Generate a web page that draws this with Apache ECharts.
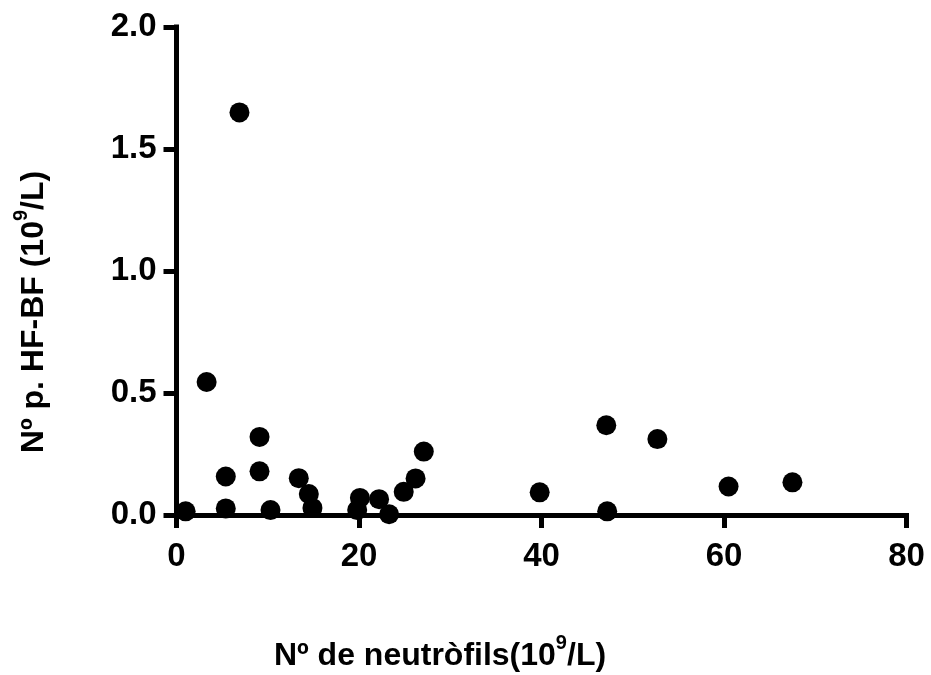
<!DOCTYPE html>
<html>
<head>
<meta charset="utf-8">
<script src="https://cdn.jsdelivr.net/npm/echarts@6/dist/echarts.min.js"></script>
<style>html,body{margin:0;padding:0;background:#fff}#c{width:931px;height:675px}</style>
</head>
<body>
<div id="c"></div>
<script>
var neutrophils = [1.0, 6.9, 3.3, 9.1, 5.4, 9.1, 5.4, 10.3, 13.4, 14.5, 14.9, 20.1, 19.8, 22.2, 23.3, 24.9, 26.2, 27.1, 39.8, 47.1, 47.2, 52.7, 60.5, 67.5];
var hfbf =        [0.015, 1.65, 0.545, 0.32, 0.158, 0.179, 0.027, 0.02, 0.151, 0.086, 0.029, 0.07, 0.02, 0.065, 0.003, 0.095, 0.15, 0.26, 0.093, 0.368, 0.015, 0.311, 0.117, 0.134];
var xTicks = [0, 20, 40, 60, 80];
var yTicks = [0.0, 0.5, 1.0, 1.5, 2.0];
var xTitle = 'Nº de neutròfils(10{sup|9}/L)';
var yTitle = 'Nº p. HF-BF (10{sup|9}/L)';

var points = neutrophils.map(function (v, i) { return [v, hfbf[i]]; });
var font = '"Liberation Sans", Arial, sans-serif';
var chart = echarts.init(document.getElementById('c'), null, {renderer: 'canvas'});
var axisCommon = {
  axisLine: {show: true, lineStyle: {color: '#000', width: 5, cap: 'square'}},
  axisTick: {show: true, length: 13, lineStyle: {color: '#000', width: 5}},
  splitLine: {show: false},
  axisLabel: {color: '#000', fontFamily: font, fontWeight: 'bold', fontSize: 33}
};
chart.setOption({
  animation: false,
  backgroundColor: '#fff',
  grid: {left: 176.5, right: 24.5, top: 27, bottom: 160},
  xAxis: Object.assign({}, axisCommon, {
    type: 'value', min: xTicks[0], max: xTicks[xTicks.length - 1], interval: 20,
    axisLabel: Object.assign({}, axisCommon.axisLabel, {margin: 25})
  }),
  yAxis: Object.assign({}, axisCommon, {
    type: 'value', min: yTicks[0], max: yTicks[yTicks.length - 1], interval: 0.5,
    axisLabel: Object.assign({}, axisCommon.axisLabel, {margin: 20, formatter: function (v) { return v.toFixed(1); }})
  }),
  graphic: [
    {type: 'text', position: [440, 656],
     style: {text: xTitle, x: 0, y: 0, textAlign: 'center', textVerticalAlign: 'middle', fill: '#000',
       font: 'bold 32px ' + font,
       rich: {sup: {fontSize: 20, fontWeight: 'bold', fontFamily: font, fill: '#000', padding: [0, 0, 26, 0]}}}},
    {type: 'text', position: [34, 312], rotation: Math.PI / 2,
     style: {text: yTitle, x: 0, y: 0, textAlign: 'center', textVerticalAlign: 'middle', fill: '#000',
       font: 'bold 32px ' + font,
       rich: {sup: {fontSize: 20, fontWeight: 'bold', fontFamily: font, fill: '#000', padding: [0, 0, 26, 0]}}}}
  ],
  series: [{
    type: 'scatter', data: points, symbol: 'circle', symbolSize: 20,
    itemStyle: {color: '#000', opacity: 1}, z: 5
  }]
});
</script>
</body>
</html>
